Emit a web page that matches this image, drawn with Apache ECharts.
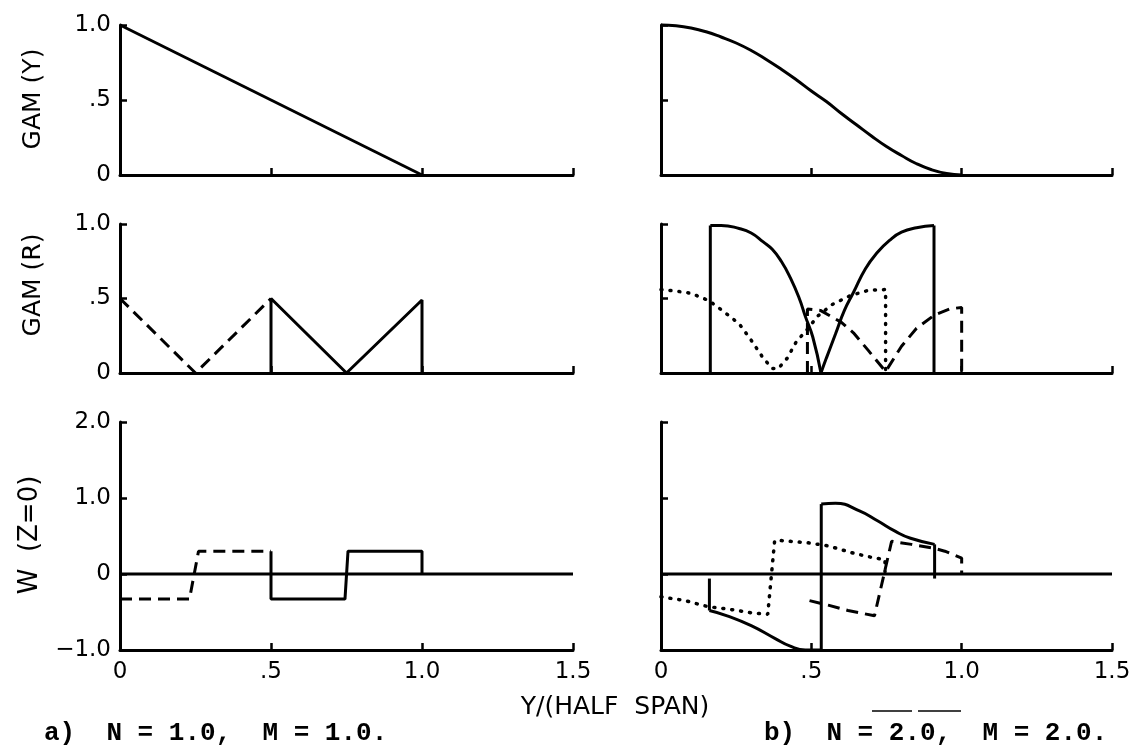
<!DOCTYPE html>
<html>
<head>
<meta charset="utf-8">
<script src="https://cdn.jsdelivr.net/npm/echarts/dist/echarts.min.js"></script>
<style>
html, body { margin: 0; padding: 0; background: #fff; }
#chart { width: 1136px; height: 749px; }
</style>
</head>
<body>
<div id="chart"></div>
<script>
// tick labels
var xTickLabels = ['0', '.5', '1.0', '1.5'];
var gamTickLabels = ['0', '.5', '1.0'];
var wTickLabels = ['\u22121.0', '0', '1.0', '2.0'];

// a) N = 1.0, M = 1.0
var gamYA = [[0, 1.0], [1.0, 0]];
var gamRA_solid = [[0.5, 0], [0.5, 0.5], [0.75, 0], [1.0, 0.49], [1.0, 0]];
var gamRA_dash = [[0, 0.5], [0.25, 0], [0.5, 0.5]];
var wA_solid = [[0.5, 0.3], [0.5, -0.33], [0.745, -0.33], [0.755, 0.3], [1.0, 0.3], [1.0, 0]];
var wA_dash = [[0, -0.33], [0.23, -0.33], [0.26, 0.3], [0.5, 0.3]];
var zeroLine = [[0, 0], [1.5, 0]];

// b) N = 2.0, M = 2.0
var gamYB = [[0, 1.0], [0.05, 0.995], [0.1, 0.98], [0.15, 0.955], [0.2, 0.92], [0.25, 0.88],
  [0.3, 0.83], [0.35, 0.77], [0.4, 0.705], [0.45, 0.635], [0.5, 0.56], [0.55, 0.49],
  [0.6, 0.41], [0.65, 0.335], [0.7, 0.26], [0.75, 0.19], [0.8, 0.13], [0.85, 0.075],
  [0.9, 0.035], [0.95, 0.01], [1.0, 0]];
// GAM(R) solid: two jumps and two curved branches
var gamRB_solidJumpL = [[0.164, 0], [0.164, 0.99]];
var gamRB_solidFall = [[0.164, 0.99], [0.2, 0.99], [0.26, 0.97], [0.3, 0.94], [0.34, 0.88],
  [0.37, 0.83], [0.4, 0.75], [0.43, 0.64], [0.46, 0.5], [0.48, 0.38], [0.505, 0.24], [0.532, 0]];
var gamRB_solidRise = [[0.532, 0], [0.55, 0.1], [0.58, 0.26], [0.61, 0.42], [0.64, 0.54],
  [0.68, 0.7], [0.72, 0.81], [0.76, 0.89], [0.8, 0.945], [0.85, 0.975], [0.908, 0.99]];
var gamRB_solidJumpR = [[0.908, 0.99], [0.908, 0]];
var gamRB_dot = [[0, 0.56], [0.05, 0.55], [0.1, 0.535], [0.16, 0.485], [0.21, 0.41], [0.26, 0.33],
  [0.3, 0.22], [0.34, 0.1], [0.37, 0.03], [0.39, 0.03], [0.42, 0.1], [0.45, 0.21], [0.49, 0.3],
  [0.52, 0.38], [0.57, 0.46], [0.63, 0.52], [0.69, 0.555], [0.747, 0.56], [0.747, 0]];
var gamRB_dash = [[0.487, 0], [0.487, 0.43], [0.53, 0.42], [0.6, 0.34], [0.64, 0.27], [0.69, 0.15],
  [0.747, 0.01], [0.8, 0.18], [0.85, 0.3], [0.91, 0.39], [0.96, 0.43], [1.0, 0.44], [1.0, 0]];
// W solid: jumps and curved branches
var wB_solidJumpL = [[0.161, -0.06], [0.161, -0.48]];
var wB_solidLow = [[0.161, -0.48], [0.22, -0.55], [0.3, -0.68], [0.38, -0.85],
  [0.43, -0.95], [0.48, -1.0], [0.533, -1.0]];
var wB_solidJumpM = [[0.533, -1.0], [0.533, 0.92]];
var wB_solidHigh = [[0.533, 0.92], [0.58, 0.93], [0.66, 0.83], [0.72, 0.7], [0.78, 0.56],
  [0.83, 0.47], [0.91, 0.39]];
var wB_solidJumpR = [[0.91, 0.39], [0.91, -0.06]];
var wB_dot = [[0, -0.3], [0.08, -0.35], [0.156, -0.43], [0.22, -0.46], [0.3, -0.51], [0.355, -0.53],
  [0.378, 0.44], [0.4, 0.44], [0.49, 0.41], [0.556, 0.37], [0.644, 0.27], [0.71, 0.21],
  [0.745, 0.19], [0.745, 0]];
var wB_dash = [[0.494, -0.35], [0.556, -0.41], [0.622, -0.48], [0.71, -0.55], [0.767, 0.43],
  [0.833, 0.39], [0.906, 0.34], [0.944, 0.3], [1.0, 0.21], [1.0, 0]];

var BLACK = '#000';
var FONT = 'DejaVu Sans';

var grids = [
  { left: 120, top: 25, width: 453, height: 150 },
  { left: 661, top: 25, width: 451, height: 150 },
  { left: 120, top: 224, width: 453, height: 149 },
  { left: 661, top: 224, width: 451, height: 149 },
  { left: 120, top: 422, width: 453, height: 228 },
  { left: 661, top: 422, width: 451, height: 228 }
];

var xAxes = [], yAxes = [];
for (var i = 0; i < 6; i++) {
  xAxes.push({
    gridIndex: i, type: 'value', min: 0, max: 1.5, interval: 0.5,
    axisLine: { show: true, onZero: false, lineStyle: { color: BLACK, width: 3 } },
    axisTick: { show: true, inside: true, length: 7, lineStyle: { color: BLACK, width: 2.5 } },
    splitLine: { show: false },
    axisLabel: {
      show: i >= 4, color: BLACK, fontFamily: FONT, fontSize: 23, margin: 11,
      formatter: function (v) { return xTickLabels[Math.round(v / 0.5)]; }
    }
  });
  var isW = i >= 4;
  yAxes.push({
    gridIndex: i, type: 'value',
    min: isW ? -1 : 0, max: isW ? 2 : 1, interval: isW ? 1 : 0.5,
    axisLine: { show: true, onZero: false, lineStyle: { color: BLACK, width: 3 } },
    axisTick: { show: true, inside: true, length: 7, lineStyle: { color: BLACK, width: 2.5 } },
    splitLine: { show: false },
    axisLabel: {
      show: i % 2 === 0, color: BLACK, fontFamily: FONT, fontSize: 23, margin: 9,
      formatter: isW
        ? function (v) { return wTickLabels[Math.round(v + 1)]; }
        : function (v) { return gamTickLabels[Math.round(v / 0.5)]; }
    }
  });
}

function line(idx, data, kind, smooth) {
  var style = { color: BLACK, width: 3, type: 'solid' };
  if (kind === 'dash') { style.type = [12, 7]; }
  if (kind === 'dot') { style.type = [1, 8]; style.width = 3.5; style.cap = 'round'; }
  return {
    type: 'line', xAxisIndex: idx, yAxisIndex: idx, data: data,
    showSymbol: false, smooth: smooth || false, silent: true, animation: false, clip: false,
    lineStyle: style
  };
}

var series = [
  line(0, gamYA, 'solid'),
  line(1, gamYB, 'solid', true),
  line(2, gamRA_dash, 'dash'),
  line(2, gamRA_solid, 'solid'),
  line(3, gamRB_dot, 'dot'),
  line(3, gamRB_dash, 'dash'),
  line(3, gamRB_solidJumpL, 'solid'),
  line(3, gamRB_solidFall, 'solid', 0.5),
  line(3, gamRB_solidRise, 'solid', 0.5),
  line(3, gamRB_solidJumpR, 'solid'),
  line(4, zeroLine, 'solid'),
  line(4, wA_dash, 'dash'),
  line(4, wA_solid, 'solid'),
  line(5, zeroLine, 'solid'),
  line(5, wB_dot, 'dot'),
  line(5, wB_dash, 'dash'),
  line(5, wB_solidJumpL, 'solid'),
  line(5, wB_solidLow, 'solid', 0.5),
  line(5, wB_solidJumpM, 'solid'),
  line(5, wB_solidHigh, 'solid', 0.5),
  line(5, wB_solidJumpR, 'solid')
];

function label(txt, x, y, font, rot, align) {
  return {
    type: 'text', x: x, y: y, rotation: rot || 0, silent: true,
    style: { text: txt, font: font, fill: BLACK, align: align || 'center', verticalAlign: 'middle' }
  };
}

var myChart = echarts.init(document.getElementById('chart'));
myChart.setOption({
  backgroundColor: '#fff',
  animation: false,
  grid: grids,
  xAxis: xAxes,
  yAxis: yAxes,
  series: series,
  graphic: [
    label('GAM (Y)', 33, 99, '25px "DejaVu Sans"', Math.PI / 2),
    label('GAM (R)', 33, 285, '25px "DejaVu Sans"', Math.PI / 2),
    label('W  (Z=0)', 30, 535, '26px "DejaVu Sans"', Math.PI / 2),
    label('Y/(HALF  SPAN)', 615, 707, '25px "DejaVu Sans"'),
    label('a)  N = 1.0,  M = 1.0.', 44, 733, 'bold 26px "Liberation Mono"', 0, 'left'),
    label('b)  N = 2.0,  M = 2.0.', 764, 733, 'bold 26px "Liberation Mono"', 0, 'left'),
    { type: 'line', silent: true, shape: { x1: 872, y1: 711, x2: 912, y2: 711 }, style: { stroke: BLACK, lineWidth: 1.5 } },
    { type: 'line', silent: true, shape: { x1: 918, y1: 711, x2: 961, y2: 711 }, style: { stroke: BLACK, lineWidth: 1.5 } }
  ]
});
</script>
</body>
</html>
